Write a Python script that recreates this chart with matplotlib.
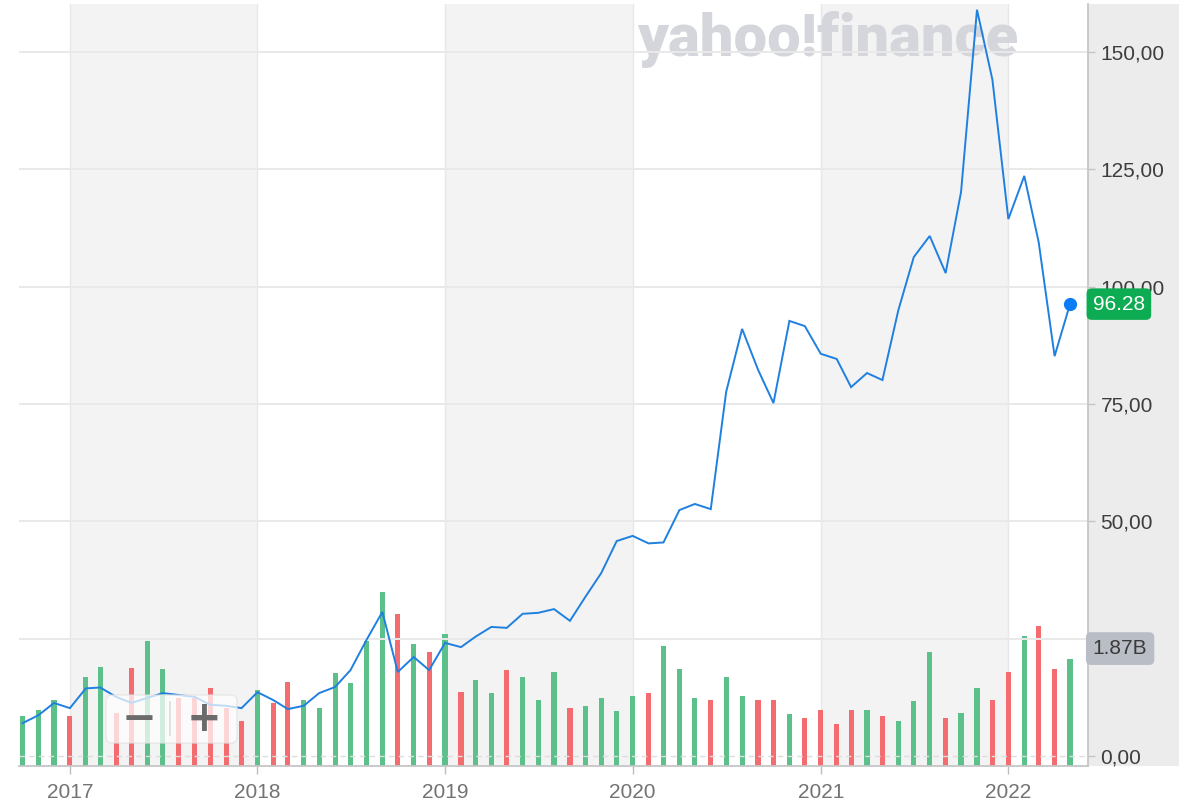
import numpy as np
import pandas as pd
import matplotlib
matplotlib.use("Agg")
import matplotlib.pyplot as plt
import matplotlib.transforms as mtransforms
from matplotlib.patches import Rectangle, FancyBboxPatch
from matplotlib.lines import Line2D

plt.rcParams['font.family'] = ['Liberation Sans', 'DejaVu Sans']

# ---------------- data ----------------
months = pd.date_range('2016-10-01', '2022-05-01', freq='MS')

close = [7.0, 8.7, 11.3,
         10.2, 14.4, 14.6, 12.6, 11.3, 12.4, 13.4, 13.0, 12.6, 10.9, 10.7, 10.2,
         13.6, 11.9, 10.0, 10.7, 13.4, 14.7, 18.3, 24.7, 30.7, 17.9, 21.1, 18.3,
         24.1, 23.2, 25.4, 27.5, 27.3, 30.3, 30.5, 31.3, 28.8, 33.9, 39.0, 45.8,
         46.9, 45.3, 45.5, 52.4, 53.7, 52.6, 77.6, 91.0, 82.3, 75.2, 92.7, 91.6,
         85.7, 84.6, 78.6, 81.6, 80.1, 95.0, 106.3, 110.8, 102.9, 120.2, 159.0, 144.1,
         114.4, 123.6, 109.5, 85.2, 96.28]

volume_b = [0.87, 0.98, 1.15,
            0.87, 1.56, 1.73, 0.93, 1.71, 2.19, 1.70, 1.19, 1.19, 1.36, 1.01, 0.79,
            1.33, 1.10, 1.47, 1.15, 1.01, 1.63, 1.45, 2.19, 3.04, 2.66, 2.13, 1.99,
            2.31, 1.29, 1.50, 1.28, 1.68, 1.56, 1.15, 1.64, 1.01, 1.05, 1.19, 0.96,
            1.22, 1.28, 2.10, 1.70, 1.19, 1.15, 1.56, 1.22, 1.15, 1.15, 0.91, 0.84,
            0.98, 0.73, 0.98, 0.98, 0.87, 0.79, 1.14, 1.99, 0.84, 0.93, 1.36, 1.15,
            1.64, 2.27, 2.45, 1.70, 1.87]

year_ticks = pd.to_datetime(['2017-01-01', '2018-01-01', '2019-01-01',
                             '2020-01-01', '2021-01-01', '2022-01-01'])
year_labels = ['2017', '2018', '2019', '2020', '2021', '2022']
shaded_years = [2017, 2019, 2021]

price_ticks = [0, 25, 50, 75, 100, 125, 150]
price_tick_labels = ['0,00', '25,00', '50,00', '75,00', '100,00', '125,00', '150,00']

last_price_label = '96.28'
last_volume_label = '1.87B'

# ---------------- styling ----------------
W, H = 1194, 801
GREEN = '#5cc08a'
RED = '#f56c70'
LINE = '#1f80e0'

fig = plt.figure(figsize=(W / 100, H / 100), dpi=100)
fig.patch.set_facecolor('white')

left_px, right_px, top_px, bot_px = 19, 1088, 4, 766
rect = [left_px / W, (H - bot_px) / H, (right_px - left_px) / W, (bot_px - top_px) / H]

# right axis panel
fig.patches.append(Rectangle(((right_px) / W, (H - bot_px) / H), (1179 - right_px) / W,
                             (bot_px - top_px) / H, transform=fig.transFigure,
                             facecolor='#ececec', edgecolor='none', zorder=-5))

ax_v = fig.add_axes(rect)
ax_p = fig.add_axes(rect, sharex=ax_v)
ax_p.set_facecolor('none')
ax_v.set_facecolor('white')

xmin = pd.Timestamp('2016-09-24')
xmax = pd.Timestamp('2022-06-05')

# shaded year bands
for y in shaded_years:
    ax_v.axvspan(pd.Timestamp(f'{y}-01-01'), pd.Timestamp(f'{y + 1}-01-01'),
                 color='#f3f3f3', zorder=0.1, lw=0)
for t in year_ticks:
    ax_v.axvline(t, color='#e8e8e8', lw=1.0, zorder=0.2)

# watermark
ax_v.text(828 / W, 1 - 40 / H, 'yahoo!finance', transform=fig.transFigure,
          ha='center', va='center', fontsize=43, fontweight='black',
          family=['Roboto', 'DejaVu Sans'], color='#d4d6db', zorder=0.5)

# volume bars
bar_colors = [GREEN] + [GREEN if close[i] >= close[i - 1] else RED for i in range(1, len(close))]
ax_v.bar(months, volume_b, width=10, color=bar_colors, zorder=2, lw=0)
vol_per_px = 1.87 / 107.0
ax_v.set_ylim(0, (bot_px - top_px) * vol_per_px)
ax_v.set_xlim(xmin, xmax)
ax_v.set_yticks([])
ax_v.tick_params(axis='x', which='both', length=0, labelbottom=False)
for s in ax_v.spines.values():
    s.set_visible(False)

# price axis
px_per_unit = (756 - 52) / 150.0
ax_p.set_ylim((756 - bot_px) / px_per_unit, (756 - top_px) / px_per_unit)

for v in price_ticks[1:]:
    ax_p.axhline(v, color='#e9e9e9', lw=1.4, zorder=0.5)
ax_p.axhline(0, color='#dedede', lw=1.0, ls=(0, (4, 3)), zorder=0.5)

ax_p.plot(months, close, color=LINE, lw=1.4, zorder=3, solid_joinstyle='miter')
ax_p.plot([months[-1]], [close[-1]], 'o', ms=9.5, color='#0a7cf5', mec='none',
          zorder=6, clip_on=False)

ax_p.yaxis.tick_right()
ax_p.set_yticks(price_ticks)
ax_p.set_yticklabels(price_tick_labels)
ax_p.tick_params(axis='y', length=5, width=1, color='#c4c4c4', pad=4,
                 labelsize=15, labelcolor='#3d3d3d')
ax_p.set_xticks(year_ticks)
ax_p.set_xticklabels(year_labels)
ax_p.tick_params(axis='x', length=6, width=1, color='#bdbdbd', pad=6,
                 labelsize=15, labelcolor='#737373')
ax_p.set_xlim(xmin, xmax)
for s in ['top', 'left']:
    ax_p.spines[s].set_visible(False)
for s in ['right', 'bottom']:
    ax_p.spines[s].set_color('#c6c6c6')
    ax_p.spines[s].set_linewidth(1.3)

# last price label
ax_p.text(1.0045, close[-1], last_price_label, transform=ax_p.get_yaxis_transform(),
          ha='left', va='center', fontsize=15, color='white', zorder=10,
          bbox=dict(boxstyle='round,pad=0.3,rounding_size=0.25', fc='#0dab52', ec='none'))

# last volume label
blend = mtransforms.blended_transform_factory(ax_p.transAxes, ax_v.transData)
ax_p.annotate(last_volume_label, xy=(1.0045, volume_b[-1]), xycoords=blend,
              xytext=(0, 7.5), textcoords='offset points', ha='left', va='center',
              fontsize=15, color='#3a3a3a', zorder=10,
              bbox=dict(boxstyle='round,pad=0.33,rounding_size=0.25', fc='#b9bdc5', ec='none'))

# zoom buttons
ident = mtransforms.IdentityTransform()
btn = FancyBboxPatch((106, H - 743), 131, 48, boxstyle='round,pad=0,rounding_size=6',
                     transform=ident, facecolor='white', alpha=0.72,
                     edgecolor='#e2e2e2', lw=1.0, zorder=8)
ax_p.add_artist(btn)
btn.set_clip_on(False)
sep = Line2D([170, 170], [H - 735, H - 702], transform=ident, color='#dcdcdc', lw=1.2, zorder=9)
ax_p.add_artist(sep)
sep.set_clip_on(False)
ax_p.text(139, H - 719, '\u2212', transform=ident, ha='center', va='center',
          fontsize=30, fontweight='heavy', family='DejaVu Sans', color='#6b6b6b', zorder=9)
ax_p.text(204, H - 719, '+', transform=ident, ha='center', va='center',
          fontsize=30, fontweight='heavy', family='DejaVu Sans', color='#6b6b6b', zorder=9)

fig.savefig('out.png', dpi=100, facecolor='white')
